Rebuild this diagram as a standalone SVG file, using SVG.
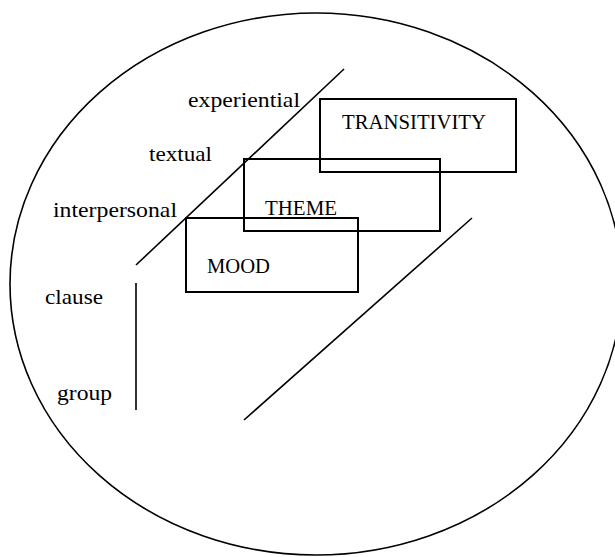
<svg xmlns="http://www.w3.org/2000/svg" width="615" height="557" viewBox="0 0 615 557">
<style>
.lbl{font-family:"Liberation Serif","Times New Roman",serif;font-size:22px;fill:#000}
.cap{font-family:"Liberation Serif","Times New Roman",serif;font-size:20px;fill:#000}
.box{fill:none;stroke:#000;stroke-width:2}
.ln{stroke:#000;stroke-width:1.6;fill:none}
</style>
<rect width="615" height="557" fill="#fff"/>
<g id="outer"><ellipse cx="316" cy="284" rx="306" ry="271" fill="none" stroke="#000" stroke-width="1.6"/></g>
<g id="connectors">
<line class="ln" x1="136" y1="265" x2="344" y2="69"/>
<line class="ln" x1="244" y1="420" x2="472" y2="218"/>
<line class="ln" x1="136" y1="283" x2="136" y2="410" stroke-width="2"/>
</g>
<g id="labels">
<text class="lbl" x="188" y="107" textLength="112" lengthAdjust="spacingAndGlyphs">experiential</text>
<text class="lbl" x="149" y="161" textLength="63" lengthAdjust="spacingAndGlyphs">textual</text>
<text class="lbl" x="53" y="217" textLength="124" lengthAdjust="spacingAndGlyphs">interpersonal</text>
<text class="lbl" x="45" y="304" textLength="58" lengthAdjust="spacingAndGlyphs">clause</text>
<text class="lbl" x="57" y="400" textLength="55" lengthAdjust="spacingAndGlyphs">group</text>
</g>
<g id="transitivity"><rect class="box" x="320" y="99" width="196" height="73"/><text class="cap" x="342" y="129" textLength="144" lengthAdjust="spacingAndGlyphs">TRANSITIVITY</text></g>
<g id="theme"><rect class="box" x="244" y="159" width="196" height="72"/><text class="cap" x="265" y="215" textLength="72" lengthAdjust="spacingAndGlyphs">THEME</text></g>
<g id="mood"><rect class="box" x="186" y="218" width="172" height="74"/><text class="cap" x="207" y="273" textLength="63" lengthAdjust="spacingAndGlyphs">MOOD</text></g>
</svg>
